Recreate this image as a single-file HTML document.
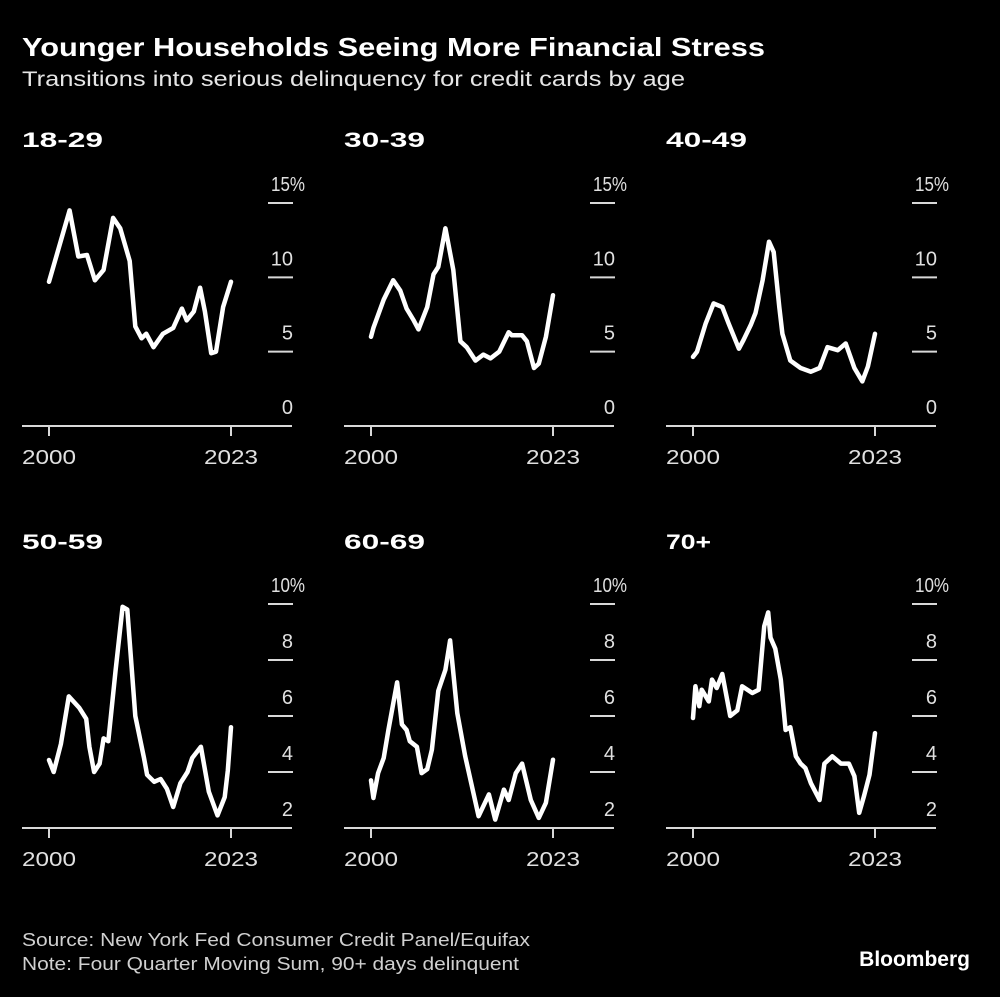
<!DOCTYPE html>
<html><head><meta charset="utf-8">
<style>
html,body{margin:0;padding:0;background:#000;}
body{width:1000px;height:992px;overflow:hidden;font-family:"Liberation Sans",sans-serif;color:#fff;}
</style></head>
<body>
<svg id="chart" width="1000" height="992" viewBox="0 0 1000 992" xmlns="http://www.w3.org/2000/svg" font-family="Liberation Sans, sans-serif">
<rect x="0" y="0" width="1000" height="992" fill="#000"/>
<text x="22" y="56" font-size="26" font-weight="bold" fill="#fff" textLength="743" lengthAdjust="spacingAndGlyphs">Younger Households Seeing More Financial Stress</text>
<text x="22" y="86" font-size="21" fill="#e6e6e6" textLength="663" lengthAdjust="spacingAndGlyphs">Transitions into serious delinquency for credit cards by age</text>
<text x="22" y="946" font-size="18" fill="#d0d0d0" textLength="508" lengthAdjust="spacingAndGlyphs">Source: New York Fed Consumer Credit Panel/Equifax</text>
<text x="22" y="970" font-size="18" fill="#d0d0d0" textLength="497" lengthAdjust="spacingAndGlyphs">Note: Four Quarter Moving Sum, 90+ days delinquent</text>
<text x="970" y="966" font-size="21" font-weight="bold" fill="#fff" text-anchor="end">Bloomberg</text>
<g id="panels"></g>
</svg>
<script>
const panelTitles = ["18-29","30-39","40-49","50-59","60-69","70+"];
const years1829 = [0,2.6,3.7,4.8,5.8,6.9,8.1,9.0,10.2,10.9,11.7,12.3,13.2,14.4,15.7,16.8,17.4,18.3,19.1,19.7,20.5,21.1,22.0,23];
const vals1829  = [9.7,14.5,11.4,11.5,9.8,10.5,14.0,13.3,11.1,6.7,5.9,6.2,5.3,6.2,6.6,7.9,7.1,7.7,9.3,7.7,4.9,5.0,8.0,9.7];
const years3039 = [0,0.3,1.6,2.8,3.7,4.5,5.4,6.0,7.1,7.9,8.5,9.4,10.4,11.3,12.1,13.2,14.2,15.1,16.2,17.4,17.8,19.1,19.7,20.6,21.2,22.1,23];
const vals3039  = [6.0,6.6,8.5,9.8,9.1,7.9,7.1,6.5,8.0,10.2,10.7,13.3,10.5,5.7,5.3,4.4,4.8,4.55,5.0,6.3,6.1,6.1,5.7,3.9,4.2,6.0,8.8];
const years4049 = [0,0.5,1.6,2.6,3.7,4.5,5.8,6.4,7.3,7.9,8.8,9.6,10.2,10.9,11.3,12.3,13.6,14.9,16.0,17.0,18.3,19.3,20.4,21.4,22.1,23];
const vals4049  = [4.65,5.0,6.9,8.25,8.0,6.9,5.2,5.8,6.8,7.6,9.8,12.4,11.7,8.0,6.2,4.4,3.9,3.65,3.9,5.3,5.1,5.55,3.9,3.0,4.0,6.2];
const years5059 = [0,0.6,1.5,2.5,3.8,4.7,5.1,5.7,6.4,6.9,7.5,8.4,9.3,9.9,10.9,12.0,12.4,13.3,14.1,14.9,15.7,16.6,17.5,18.1,19.2,20.2,21.3,22.2,22.6,23];
const vals5059  = [4.43,4.0,5.0,6.7,6.3,5.9,4.9,4.0,4.3,5.2,5.1,7.6,9.9,9.8,6.0,4.5,3.9,3.65,3.75,3.4,2.75,3.6,4.0,4.5,4.9,3.3,2.45,3.1,4.05,5.6];
const years6069 = [0,0.3,0.9,1.6,2.2,3.3,3.9,4.5,4.9,5.8,6.4,7.1,7.7,8.5,9.4,10.0,10.9,11.9,12.8,13.6,14.9,15.7,16.8,17.4,18.3,19.1,20.2,21.2,22.1,23];
const vals6069  = [3.7,3.07,3.96,4.5,5.5,7.2,5.7,5.5,5.1,4.9,3.96,4.1,4.8,6.9,7.65,8.7,6.1,4.56,3.43,2.42,3.2,2.3,3.37,3.0,3.96,4.3,3.0,2.36,2.9,4.44];
const years70 = [0,0.3,0.8,1.1,2.0,2.4,3.0,3.7,4.7,5.6,6.2,7.5,8.3,9.0,9.5,9.8,10.4,11.1,11.7,12.3,13.0,13.6,14.2,14.9,16.0,16.6,17.6,18.7,19.7,20.4,21.0,21.6,22.3,23];
const vals70  = [5.93,7.06,6.35,6.94,6.52,7.3,7.0,7.5,6.0,6.2,7.06,6.82,6.94,9.2,9.7,8.8,8.4,7.3,5.5,5.6,4.56,4.3,4.14,3.6,3.0,4.3,4.56,4.3,4.3,3.85,2.54,3.13,3.9,5.39];
const topTicks = [0,5,10,15];
const bottomTicks = [2,4,6,8,10];
const xTickLabels = ["2000","2023"];

const NS = "http://www.w3.org/2000/svg";
const g = document.getElementById("panels");
const seriesYears = [years1829,years3039,years4049,years5059,years6069,years70];
const seriesVals = [vals1829,vals3039,vals4049,vals5059,vals6069,vals70];
const titleWidths = [81,81,81,81,81,45];

function mk(tag, attrs, parent){
  const e = document.createElementNS(NS, tag);
  for (const k in attrs) e.setAttribute(k, attrs[k]);
  parent.appendChild(e);
  return e;
}

for (let p = 0; p < 6; p++) {
  const col = p % 3, row = Math.floor(p / 3);
  const ox = col * 322;
  const top = row === 0;
  const axisY = top ? 426 : 828;
  const ticks = top ? topTicks : bottomTicks;
  const vmin = ticks[0], vmax = ticks[ticks.length - 1];
  const topY = top ? 203 : 604;
  const xScale = yr => ox + 49 + yr * (182 / 23);
  const yScale = v => axisY - (v - vmin) / (vmax - vmin) * (axisY - topY);

  const pg = mk("g", {}, g);
  
  

  const t = mk("text", {x: ox + 22, y: top ? 147 : 549, "font-size": 21, "font-weight": "bold", fill: "#fff", textLength: titleWidths[p], lengthAdjust: "spacingAndGlyphs"}, pg);
  t.textContent = panelTitles[p];
  
  

  ticks.forEach((v, i) => {
    const y = yScale(v);
    if (i > 0) {
      const gl = mk("line", {x1: ox + 268, x2: ox + 293, y1: y, y2: y, stroke: "#d8d8d8", "stroke-width": 2}, pg);
      
      
    }
    const last = i === ticks.length - 1;
    const lb = mk("text", {x: last ? ox + 271 : ox + 293, y: y - 12, "font-size": 20, fill: "#e0e0e0", "text-anchor": last ? "start" : "end"}, pg);
    if (last) { lb.setAttribute("textLength", 34); lb.setAttribute("lengthAdjust", "spacingAndGlyphs"); }
    lb.textContent = last ? v + "%" : String(v);
    
    
  });

  const ax = mk("line", {x1: ox + 22, x2: ox + 292, y1: axisY, y2: axisY, stroke: "#d8d8d8", "stroke-width": 2}, pg);
  
  

  [0, 23].forEach((yr, i) => {
    const x = xScale(yr);
    const tk = mk("line", {x1: x, x2: x, y1: axisY, y2: axisY + 10, stroke: "#d8d8d8", "stroke-width": 2}, pg);
    
    
    const tl = mk("text", {x: x - 27, y: axisY + 38, "font-size": 20, fill: "#e0e0e0", textLength: 54, lengthAdjust: "spacingAndGlyphs"}, pg);
    tl.textContent = xTickLabels[i];
    
    
  });

  const ys = seriesYears[p], vs = seriesVals[p];
  let d = "";
  for (let i = 0; i < ys.length; i++) d += (i ? "L" : "M") + xScale(ys[i]).toFixed(1) + "," + yScale(vs[i]).toFixed(1);
  const path = mk("path", {d: d, fill: "none", stroke: "#fff", "stroke-width": 4.5, "stroke-linejoin": "round", "stroke-linecap": "round"}, pg);
  
  
}
</script>
</body></html>
